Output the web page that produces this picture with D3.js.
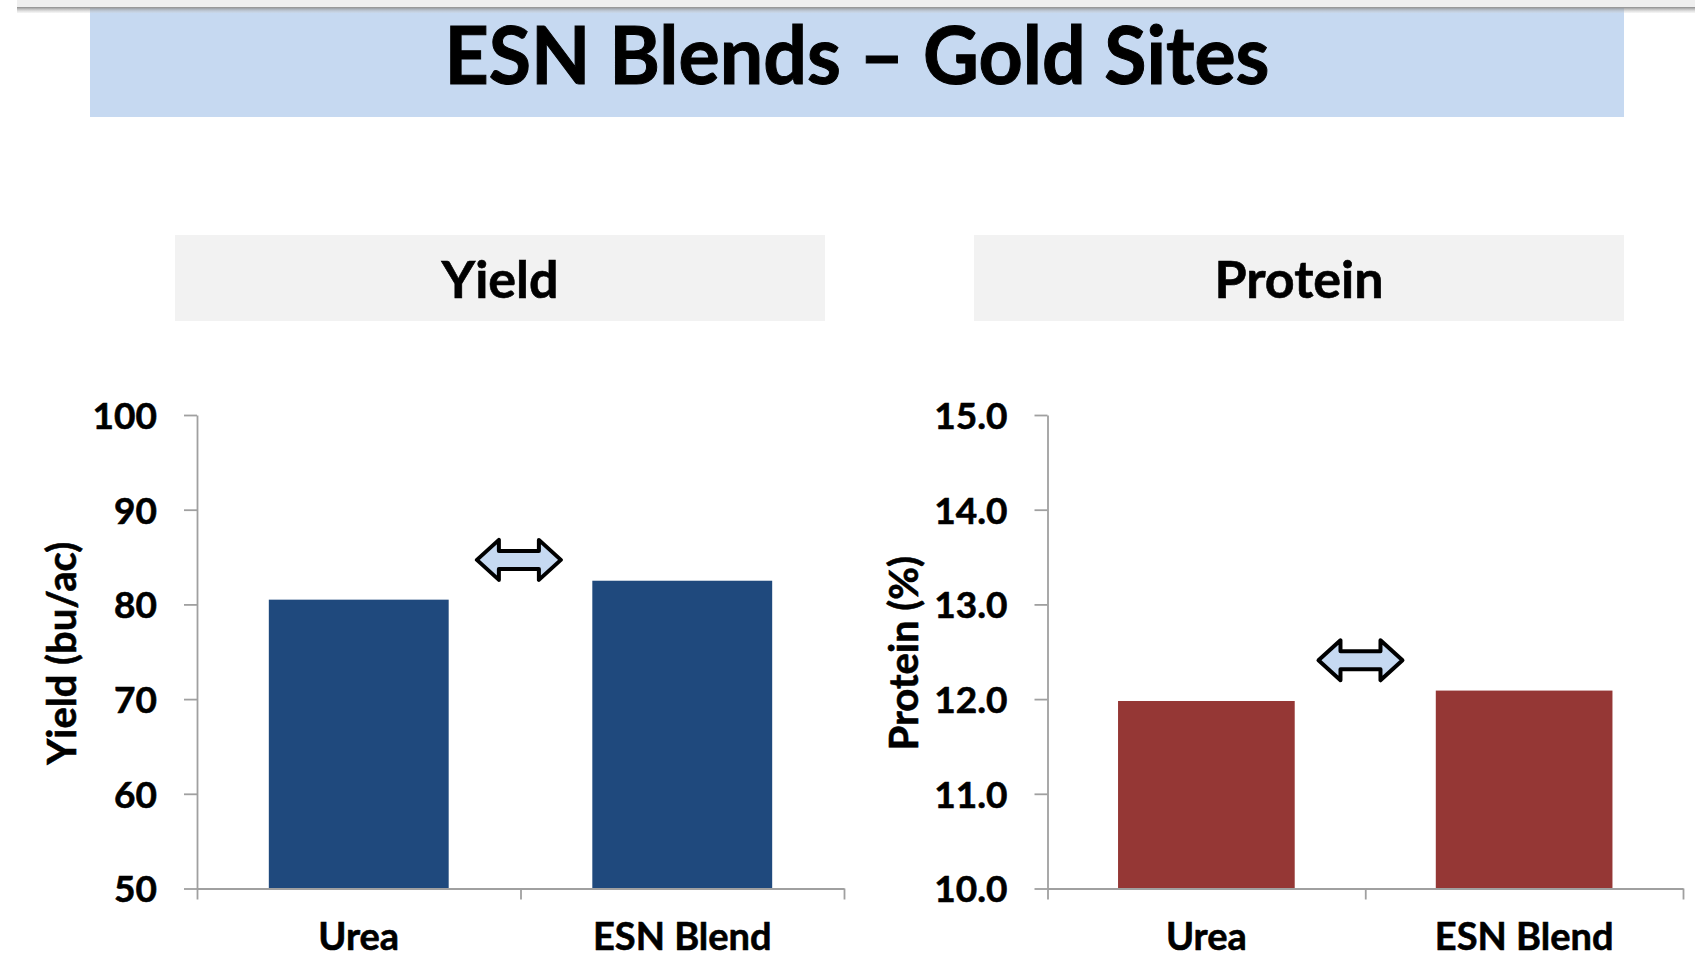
<!DOCTYPE html>
<html>
<head>
<meta charset="utf-8">
<script src="https://cdn.jsdelivr.net/npm/d3@7"></script>
<style>
  html, body { margin: 0; padding: 0; background: #ffffff; }
  svg { display: block; }
  text { font-family: Lato, "Open Sans", sans-serif; font-weight: 700; fill: #000; stroke: #000; stroke-width: 0.6px; }
</style>
</head>
<body>
<svg id="chart" width="1695" height="960"></svg>
<script>
// ---------- data ----------
const title = "ESN Blends \u2013 Gold Sites";
const categories = ["Urea", "ESN Blend"];
const yieldValues = [80.5, 82.5];
const proteinValues = [11.98, 12.09];
const yieldTicks = [50, 60, 70, 80, 90, 100];
const proteinTicks = [10, 11, 12, 13, 14, 15];
const yieldDomain = [50, 100];
const proteinDomain = [10, 15];
// double-arrow annotations: position along category axis (0..n) and data value
const yieldArrow = { at: 0.995, value: 84.7 };
const proteinArrow = { at: 0.985, value: 12.41 };

// ---------- styling ----------
const W = 1695, H = 960;
const svg = d3.select("#chart");

// top gray rule
const defs = svg.append("defs");
const g1 = defs.append("linearGradient").attr("id", "rule").attr("x1", 0).attr("y1", 0).attr("x2", 0).attr("y2", 1);
g1.append("stop").attr("offset", "0%").attr("stop-color", "#7f7f7f").attr("stop-opacity", 0.9);
g1.append("stop").attr("offset", "100%").attr("stop-color", "#d0d0d0").attr("stop-opacity", 0.2);

// title band
svg.append("rect").attr("x", 90).attr("y", 8).attr("width", 1534).attr("height", 109).attr("fill", "#c6d9f1");
svg.append("rect").attr("x", 17).attr("y", 0).attr("width", W - 17).attr("height", 7).attr("fill", "#efefef");
svg.append("rect").attr("x", 17).attr("y", 7).attr("width", W - 17).attr("height", 6).attr("fill", "url(#rule)");

svg.append("text")
  .attr("x", 857).attr("y", 84)
  .attr("text-anchor", "middle")
  .style("font-size", "80px")
  .style("stroke-width", "1px")
  .attr("textLength", 825).attr("lengthAdjust", "spacingAndGlyphs")
  .text(title);

// panel config
const panels = [
  { name: "Yield", axisTitle: "Yield (bu/ac)", values: yieldValues, ticks: yieldTicks, domain: yieldDomain,
    fmt: d3.format("d"), color: "#1f497d", x0: 197, x1: 844, box: [175, 825], arrow: yieldArrow, titleX: 76 },
  { name: "Protein", axisTitle: "Protein (%)", values: proteinValues, ticks: proteinTicks, domain: proteinDomain,
    fmt: d3.format(".1f"), color: "#953735", x0: 1047.5, x1: 1683, box: [974, 1624], arrow: proteinArrow, titleX: 918 }
];
const yTop = 415, yBottom = 888.5;

panels.forEach(p => {
  // header box
  svg.append("rect").attr("x", p.box[0]).attr("y", 235).attr("width", p.box[1] - p.box[0]).attr("height", 86)
    .attr("fill", "#f2f2f2");
  svg.append("text").attr("x", (p.box[0] + p.box[1]) / 2).attr("y", 298)
    .attr("text-anchor", "middle").style("font-size", "52px").text(p.name);

  const y = d3.scaleLinear().domain(p.domain).range([yBottom, yTop]);
  const xBand = d3.scaleBand().domain(categories).range([p.x0, p.x1]).paddingInner(0).paddingOuter(0);
  const xLin = d3.scaleLinear().domain([0, categories.length]).range([p.x0, p.x1]);
  const barW = xBand.bandwidth() * 0.556;

  // bars
  svg.append("g").selectAll("rect").data(p.values).join("rect")
    .attr("x", (d, i) => xBand(categories[i]) + (xBand.bandwidth() - barW) / 2)
    .attr("y", d => y(d))
    .attr("width", barW)
    .attr("height", d => y(p.domain[0]) - y(d))
    .attr("fill", p.color);

  // y axis
  const ya = svg.append("g").attr("transform", `translate(${p.x0},0)`)
    .call(d3.axisLeft(y).tickValues(p.ticks).tickFormat(p.fmt).tickSize(13).tickSizeOuter(0).tickPadding(27));
  ya.selectAll("path, line").attr("stroke", "#a0a0a0").attr("stroke-width", 1.8);
  ya.selectAll("text").style("font-size", "37px").style("font-family", "Lato, sans-serif").style("font-weight", 700)
    .attr("fill", "#000").attr("dy", "0.36em");

  // x axis: boundary ticks
  const xa = svg.append("g").attr("transform", `translate(0,${yBottom})`)
    .call(d3.axisBottom(xLin).tickValues(d3.range(categories.length + 1)).tickFormat("").tickSize(11).tickSizeOuter(0));
  xa.selectAll("path, line").attr("stroke", "#a0a0a0").attr("stroke-width", 1.8);

  // category labels
  const xl = svg.append("g").attr("transform", `translate(0,${yBottom})`)
    .call(d3.axisBottom(xBand).tickSize(0).tickPadding(0));
  xl.select(".domain").remove();
  xl.selectAll("text").style("font-size", "38px").style("font-family", "Lato, sans-serif").style("font-weight", 700)
    .attr("fill", "#000").attr("y", 61).attr("dy", 0);

  // axis title
  svg.append("text")
    .attr("transform", `translate(${p.titleX},${(yTop + yBottom) / 2 + 1.5}) rotate(-90)`)
    .attr("text-anchor", "middle").style("font-size", "40px").text(p.axisTitle);

  // double arrow
  const ax = xLin(p.arrow.at), ay = y(p.arrow.value);
  const hw = 42, hh = 20, sh = 9, hl = 22;
  const path = d3.path();
  path.moveTo(-hw, 0);
  path.lineTo(-hw + hl, -hh);
  path.lineTo(-hw + hl, -sh);
  path.lineTo(hw - hl, -sh);
  path.lineTo(hw - hl, -hh);
  path.lineTo(hw, 0);
  path.lineTo(hw - hl, hh);
  path.lineTo(hw - hl, sh);
  path.lineTo(-hw + hl, sh);
  path.lineTo(-hw + hl, hh);
  path.closePath();
  svg.append("path").attr("d", path.toString())
    .attr("transform", `translate(${ax},${ay})`)
    .attr("fill", "#c6d9f1").attr("stroke", "#000").attr("stroke-width", 4).attr("stroke-linejoin", "round");
});
</script>
</body>
</html>
